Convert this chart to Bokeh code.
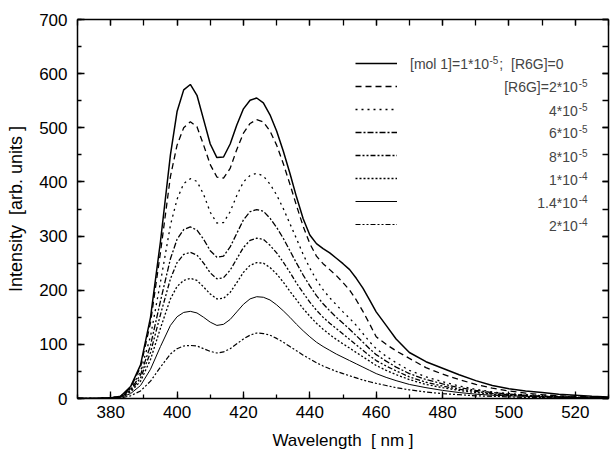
from bokeh.plotting import figure
from bokeh.models import (LinearAxis, SingleIntervalTicker, Range1d, Legend, LegendItem, Label,
                          CustomLabelingPolicy)
from bokeh.core.properties import value
from bokeh.embed import file_html
from bokeh.resources import INLINE

# ---------------- data ----------------
wavelength = [370, 375, 380, 383, 386, 389, 392, 395, 398, 400, 402, 404, 406, 408, 410, 412, 414, 416,
              418, 420, 422, 424, 426, 428, 430, 432, 434, 436, 438, 440, 442, 444, 446, 448, 450, 452,
              454, 456, 458, 460, 463, 466, 470, 475, 480, 485, 490, 495, 500, 505, 510, 515, 520, 525, 530]

r6g_0 = [0, 0, 1, 4, 22, 62, 150, 290, 450, 530, 570, 580, 560, 515, 470, 445, 446, 470,
         505, 535, 551, 555, 546, 524, 494, 457, 416, 372, 332, 302, 286, 277, 269, 259, 249, 238,
         222, 204, 182, 160, 135, 110, 85, 68, 56, 44, 33, 24, 18, 14, 11, 8, 6, 4, 3]
r6g_2e5 = [0, 0, 1, 4, 20, 58, 140, 270, 410, 468, 500, 511, 502, 468, 432, 409, 407, 425,
           460, 490, 508, 515, 511, 494, 468, 434, 396, 356, 318, 286, 263, 249, 238, 227, 214, 200,
           182, 161, 138, 114, 100, 88, 74, 57, 45, 35, 26, 19, 14, 10, 7, 5, 4, 3, 2]
r6g_4e5 = [0, 0, 1, 4, 18, 50, 115, 215, 320, 368, 397, 406, 401, 377, 344, 324, 325, 345,
           375, 400, 412, 416, 411, 396, 376, 351, 323, 295, 266, 241, 219, 201, 186, 173, 160, 148,
           135, 120, 105, 92, 78, 66, 52, 40, 31, 23, 17, 12, 9, 7, 5, 4, 3, 2, 1]
r6g_6e5 = [0, 0, 1, 4, 16, 44, 98, 180, 258, 294, 312, 317, 311, 294, 273, 261, 263, 280,
           305, 330, 345, 349, 346, 333, 316, 296, 273, 250, 228, 208, 190, 175, 162, 150, 139, 128,
           116, 104, 92, 81, 69, 58, 46, 35, 27, 20, 15, 11, 8, 6, 4, 3, 2, 2, 1]
r6g_8e5 = [0, 0, 1, 3, 14, 38, 85, 155, 221, 251, 266, 270, 265, 250, 232, 221, 223, 237,
           258, 279, 292, 296, 294, 283, 269, 252, 233, 213, 195, 178, 163, 150, 139, 129, 119, 109,
           99, 89, 79, 70, 60, 51, 40, 30, 23, 17, 13, 9, 7, 5, 4, 3, 2, 1, 1]
r6g_1e4 = [0, 0, 1, 3, 12, 32, 72, 130, 184, 207, 218, 222, 218, 206, 193, 184, 185, 196,
           214, 233, 246, 251, 250, 242, 230, 215, 198, 182, 166, 152, 139, 128, 118, 109, 101, 93,
           85, 77, 69, 61, 52, 44, 35, 26, 20, 15, 11, 8, 6, 5, 4, 3, 2, 1, 1]
r6g_14e4 = [0, 0, 1, 2, 9, 24, 54, 96, 135, 151, 159, 161, 158, 150, 141, 135, 137, 146,
            160, 174, 184, 188, 187, 182, 173, 162, 150, 137, 125, 114, 104, 96, 89, 82, 76, 70,
            64, 58, 52, 46, 39, 33, 26, 20, 15, 11, 8, 6, 5, 4, 3, 2, 2, 1, 1]
r6g_2e4 = [0, 0, 0, 1, 5, 14, 32, 58, 82, 92, 97, 98, 97, 92, 87, 84, 86, 92,
           101, 110, 117, 121, 120, 117, 111, 104, 96, 88, 80, 73, 66, 60, 55, 50, 46, 42,
           38, 34, 31, 28, 24, 20, 16, 12, 9, 7, 5, 4, 3, 2, 2, 1, 1, 1, 0]

series = [r6g_0, r6g_2e5, r6g_4e5, r6g_6e5, r6g_8e5, r6g_1e4, r6g_14e4, r6g_2e4]
legend_main = ["[mol 1]=1*10", "[R6G]=2*10", "4*10", "6*10", "8*10", "1*10", "1.4*10", "2*10"]
legend_exp = ["-5", "-5", "-5", "-5", "-5", "-4", "-4", "-4"]
legend_tail = ";\u00a0\u00a0[R6G]=0"

x_ticks_interval = 20
y_ticks_interval = 100

# ---------------- styles ----------------
dashes = ["solid", "6 4", "2 4", "6 2 2 2", "5 2 2 2 2 2", "2 2", "solid", "5 2 2 2 2 2"]
widths = [1.5, 1.3, 1.3, 1.3, 1.3, 1.3, 1.0, 1.2]

FONT = "Liberation Sans"

p = figure(width=613, height=455, output_backend="svg", toolbar_location=None,
           x_range=Range1d(370, 530), y_range=Range1d(0, 700),
           min_border_left=77, min_border_right=0, min_border_top=19, min_border_bottom=57,
           x_axis_label="Wavelength\u00a0\u00a0[ nm ]",
           y_axis_label="Intensity\u00a0\u00a0[arb. units ]")
p.outline_line_color = None
p.grid.visible = False
p.background_fill_color = "white"

renderers = []
for ys, d, w in zip(series, dashes, widths):
    r = p.line(wavelength, ys, line_color="black", line_width=w, line_dash=d)
    renderers.append(r)

hide_labels = CustomLabelingPolicy(code="for (const i of indices) { indices.unset(i) } return indices")

def style_axis(ax, labels=True, maj_in=7, min_in=4):
    ax.axis_line_width = 1.5
    ax.axis_line_color = "black"
    ax.major_tick_in = maj_in
    ax.major_tick_out = 0
    ax.minor_tick_in = min_in
    ax.minor_tick_out = 0
    ax.major_tick_line_width = 1.3
    ax.minor_tick_line_width = 1.3
    ax.major_tick_line_color = "black"
    ax.minor_tick_line_color = "black"
    if labels:
        ax.major_label_text_font = FONT
        ax.major_label_text_font_size = "17px"
        ax.major_label_text_color = "black"
        ax.axis_label_text_font = FONT
        ax.axis_label_text_font_style = "normal"
        ax.axis_label_text_color = "black"
    else:
        ax.major_label_text_font_size = "1px"
        ax.major_label_standoff = 0
        ax.major_label_policy = hide_labels

xb = p.xaxis[0]
xb.ticker = SingleIntervalTicker(interval=x_ticks_interval, num_minor_ticks=2)
style_axis(xb)
xb.axis_label_text_font_size = "17px"
xb.major_label_standoff = 7
xb.axis_label_standoff = 10

yl = p.yaxis[0]
yl.ticker = SingleIntervalTicker(interval=y_ticks_interval, num_minor_ticks=2)
style_axis(yl)
yl.axis_label_text_font_size = "18px"
yl.major_label_standoff = 10
yl.axis_label_standoff = 10

xt = LinearAxis(ticker=SingleIntervalTicker(interval=x_ticks_interval, num_minor_ticks=2))
style_axis(xt, labels=False, maj_in=6, min_in=6)
p.add_layout(xt, "above")

yr = LinearAxis(ticker=SingleIntervalTicker(interval=y_ticks_interval, num_minor_ticks=2))
style_axis(yr, labels=False, maj_in=6, min_in=6)
p.add_layout(yr, "right")

# legend sample lines
items = [LegendItem(label=value(" "), renderers=[r]) for r in renderers]
leg = Legend(items=items, location=(278, 164), glyph_width=42, glyph_height=20, spacing=3,
             padding=0, margin=0, label_standoff=0, label_width=0, label_height=20,
             label_text_font_size="1px", border_line_color=None, background_fill_alpha=0)
p.add_layout(leg, "center")

# legend texts (screen px -> data)
def dx(px):
    return 370 + (px - 77) * 160.0 / 535.0

def dy(py):
    return (398 - py) * 700.0 / 379.0

row_py = [63, 86, 110, 132, 156, 179, 202, 225]
for i, (m, e) in enumerate(zip(legend_main, legend_exp)):
    yy = dy(row_py[i])
    if i == 0:
        p.add_layout(Label(x=dx(412), y=yy, text=m, text_font=FONT, text_font_size="14px",
                           text_align="left", text_baseline="middle"))
        p.add_layout(Label(x=dx(492), y=yy, y_offset=4, text=e, text_font=FONT, text_font_size="10px",
                           text_align="left", text_baseline="middle"))
        p.add_layout(Label(x=dx(502), y=yy, text=legend_tail, text_font=FONT, text_font_size="14px",
                           text_align="left", text_baseline="middle"))
    else:
        p.add_layout(Label(x=dx(581), y=yy, text=m, text_font=FONT, text_font_size="14px",
                           text_align="right", text_baseline="middle"))
        p.add_layout(Label(x=dx(582), y=yy, y_offset=4, text=e, text_font=FONT, text_font_size="10px",
                           text_align="left", text_baseline="middle"))

open("out.html", "w").write(file_html(p, INLINE))
